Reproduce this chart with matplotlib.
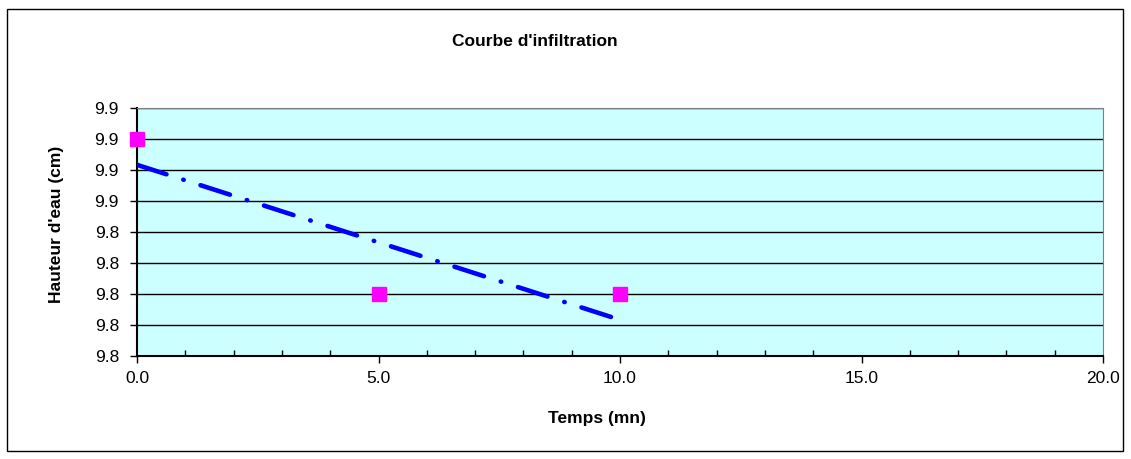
import matplotlib.pyplot as plt
import matplotlib.ticker as mticker
import matplotlib.patches as mpatches
import numpy as np

plt.rcParams["font.family"] = ["Liberation Sans", "DejaVu Sans"]

# data
temps = [0.0, 5.0, 10.0]
hauteur = [9.90, 9.80, 9.80]
y_ticks = [9.76, 9.78, 9.80, 9.82, 9.84, 9.86, 9.88, 9.90, 9.92]
x_ticks = [0.0, 5.0, 10.0, 15.0, 20.0]

W, H = 1131, 459
fig = plt.figure(figsize=(W / 100, H / 100), dpi=100)

# chart area border
fig.patches.append(
    mpatches.Rectangle((7 / W, 1 - 451 / H), (1123 - 7) / W, (451 - 9) / H,
                       transform=fig.transFigure, fill=False, edgecolor="black", lw=1)
)

ax = fig.add_axes([137 / W, 1 - 356 / H, (1103 - 137) / W, (356 - 108) / H])
ax.set_facecolor("#CCFFFF")

# trend line (linear fit, like Excel)
coef = np.polyfit(temps, hauteur, 1)
xt = np.array([min(temps), max(temps)])
ax.plot(xt, np.polyval(coef, xt), color="#0000FF", lw=3.3,
        linestyle=(0, (6.75, 3.85, 0.1, 3.85)), dash_capstyle="round", zorder=3)

ax.plot(temps, hauteur, linestyle="None", marker="s", markersize=9.5,
        color="#FF00FF", markeredgecolor="#FF00FF", clip_on=False, zorder=4)

ax.set_xlim(0, 20)
ax.set_ylim(y_ticks[0], y_ticks[-1])
ax.set_xticks(x_ticks)
ax.set_yticks(y_ticks)
ax.xaxis.set_major_formatter(mticker.FormatStrFormatter("%.1f"))
ax.yaxis.set_major_formatter(mticker.FormatStrFormatter("%.1f"))
ax.xaxis.set_minor_locator(mticker.MultipleLocator(1.0))
ax.tick_params(axis="both", which="major", direction="out", length=5, width=1,
               labelsize=12.5, color="black")
ax.tick_params(axis="x", which="minor", direction="in", length=4, width=1)
ax.tick_params(axis="x", pad=6)
ax.tick_params(axis="y", pad=8)

ax.grid(axis="y", color="black", lw=1)
ax.set_axisbelow(True)
for s in ["top", "right"]:
    ax.spines[s].set_color("#808080")
for s in ["left", "bottom"]:
    ax.spines[s].set_color("black")
    ax.spines[s].set_linewidth(1.5)

fig.text(535 / W, 1 - 42 / H, "Courbe d'infiltration", ha="center", va="center",
         fontsize=12.5, fontweight="bold")
fig.text(597 / W, 1 - 418 / H, "Temps (mn)", ha="center", va="center",
         fontsize=12.5, fontweight="bold")
fig.text(57 / W, 1 - 224 / H, "Hauteur d'eau (cm)", ha="center", va="center",
         rotation=90, fontsize=12.5, fontweight="bold")

fig.savefig("out.png", dpi=100)
